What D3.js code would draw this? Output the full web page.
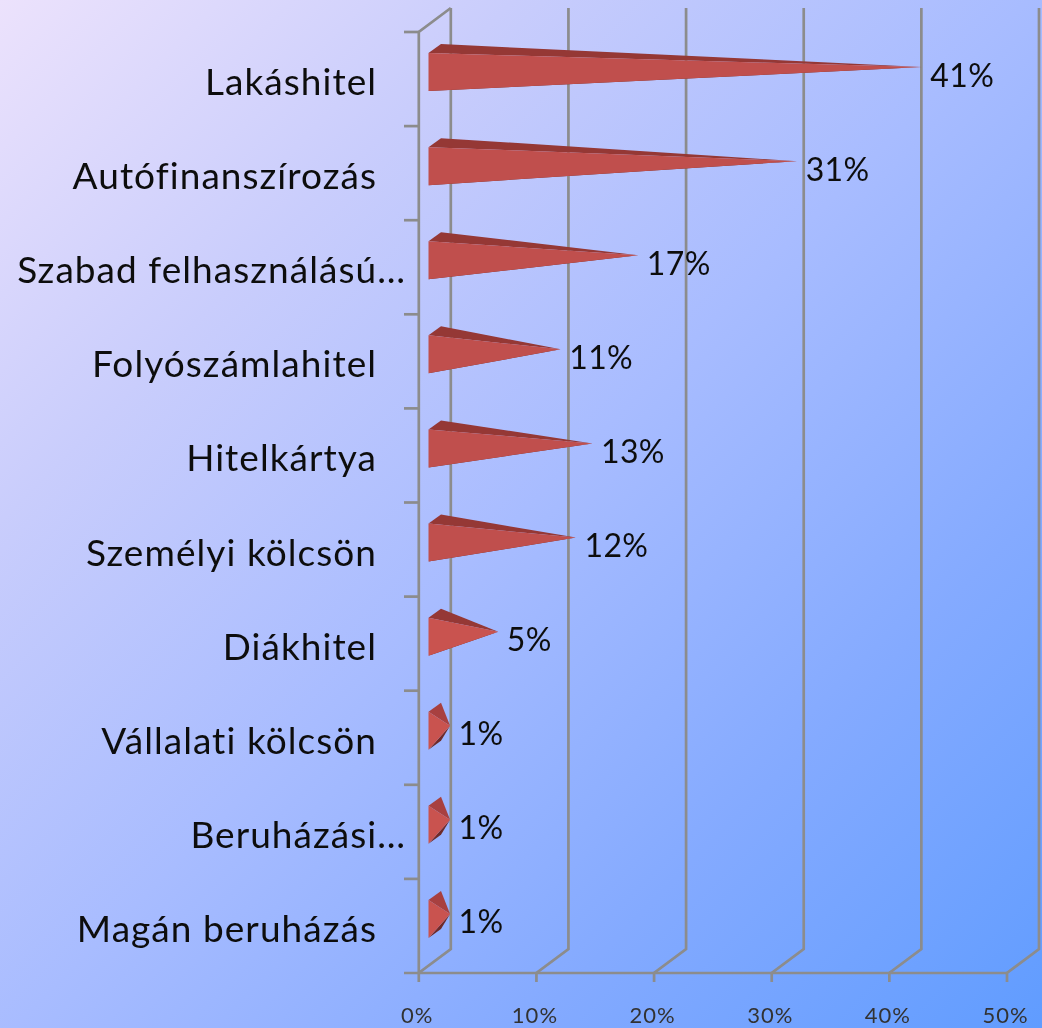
<!DOCTYPE html>
<html><head><meta charset="utf-8">
<script src="https://cdn.jsdelivr.net/npm/d3@7"></script>
<style>html,body{margin:0;padding:0;overflow:hidden;background:#7aa8ff}svg{display:block}text{font-family:Lato,sans-serif}</style>
</head><body><svg id="c" width="1042" height="1028"></svg>
<script>
const categories=["Lakáshitel","Autófinanszírozás","Szabad felhasználású…","Folyószámlahitel","Hitelkártya","Személyi kölcsön","Diákhitel","Vállalati kölcsön","Beruházási…","Magán beruházás"];
const values=[41.4,30.8,17.3,10.7,13.4,12.0,5.4,1.3,1.3,1.3];
const valueLabels=["41%","31%","17%","11%","13%","12%","5%","1%","1%","1%"];
const xTicks=[0,10,20,30,40,50];
const W=1042,H=1028;
const svg=d3.select("#c");
const defs=svg.append("defs");
const g=defs.append("linearGradient").attr("id","bg").attr("gradientUnits","userSpaceOnUse")
  .attr("x1",0).attr("y1",0).attr("x2",W).attr("y2",H);
[[0,"#ece2fc"],[0.25,"#c9cdfc"],[0.5,"#a8bcff"],[0.75,"#84aaff"],[1,"#609cff"]].forEach(s=>g.append("stop").attr("offset",s[0]).attr("stop-color",s[1]));
defs.append("filter").attr("id","soft").attr("x",0).attr("y",0).attr("filterUnits","userSpaceOnUse").attr("width",W).attr("height",H)
  .append("feGaussianBlur").attr("stdDeviation",0.45);
svg.append("rect").attr("width",W).attr("height",H).attr("fill","url(#bg)");
const root=svg.append("g").attr("filter","url(#soft)");

const x=d3.scaleLinear().domain([0,50]).range([418.8,1007]);
const y=d3.scaleBand().domain(categories).range([32,973]);
const dx=32,dy=-24,grid="#8c8c8c",sw=2.7;
const gridG=root.append("g").attr("fill","none").attr("stroke",grid).attr("stroke-width",sw);
xTicks.forEach(t=>{
  const px=x(t);
  gridG.append("path").attr("d",d3.line()([[px,982],[px,973],[px+dx,973+dy],[px+dx,32+dy]]));
});
gridG.append("path").attr("d",d3.line()([[x(0),973],[x(0),32],[x(0)+dx,32+dy]]));
gridG.append("line").attr("x1",404).attr("x2",x(50)).attr("y1",973).attr("y2",973);
categories.map(c=>y(c)).forEach(v=>gridG.append("line").attr("x1",404).attr("x2",x(0)).attr("y1",v).attr("y2",v));

const bars=root.append("g");
const baseX=428.5,backX=12.5,backY=-9;
categories.forEach((c,i)=>{
  const cy=y(c)+y.bandwidth()/2;
  const tip=[x(values[i])+16,cy-12];
  const ft=[baseX,cy-26],fb=[baseX,cy+12],bt=[baseX+backX,cy-26+backY],bb=[baseX+backX,cy+12+backY];
  const small=values[i]<3;
  bars.append("polygon").attr("points",[bb,fb,tip].join(" ")).attr("fill","#6e2b29");
  bars.append("polygon").attr("points",[ft,bt,tip].join(" ")).attr("fill",small?"#a8413f":"#953735");
  bars.append("polygon").attr("points",[ft,fb,tip].join(" ")).attr("fill",values[i]<8?"#c9534f":"#c0504d");
  root.append("text").attr("x",tip[0]+8.5).attr("y",tip[1]+19.5).attr("font-size",32).attr("letter-spacing",0.4).attr("fill","#111").text(valueLabels[i]);
  const trunc=c.endsWith("…");
  root.append("text").attr("x",trunc?406:377).attr("y",cy+16).attr("text-anchor","end").attr("font-size",37).attr("letter-spacing",1.05).attr("fill","#111").text(c);
});
xTicks.forEach(t=>root.append("text").attr("x",x(t)-1.5).attr("y",1023).attr("text-anchor","middle").attr("font-size",22).attr("letter-spacing",1).attr("fill","#333").text(t+"%"));
</script></body></html>
